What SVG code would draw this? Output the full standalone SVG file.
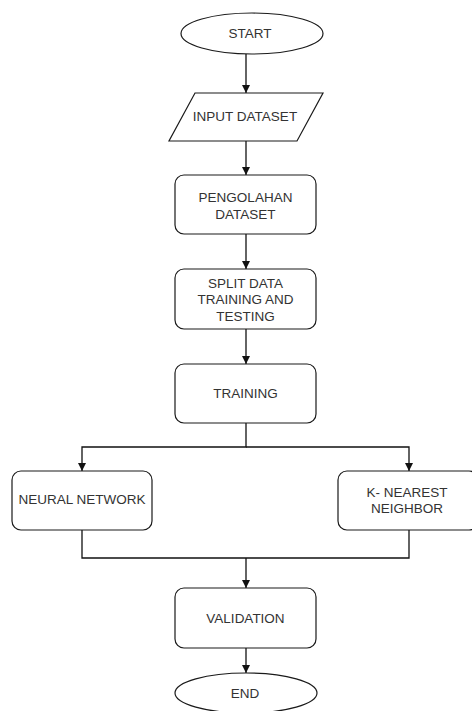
<svg xmlns="http://www.w3.org/2000/svg" width="472" height="711" viewBox="0 0 472 711">
  <style>
    .shape { fill: #ffffff; stroke: #1a1a1a; stroke-width: 1.2; }
    .label { font-family: "Liberation Sans", Arial, sans-serif; font-size: 13.5px; fill: #333333; text-anchor: middle; }
    .edge { fill: none; stroke: #111111; stroke-width: 1.3; }
  </style>
  <defs>
    <marker id="arrow" viewBox="0 0 10 10" refX="10" refY="5" markerWidth="8" markerHeight="8" markerUnits="userSpaceOnUse" orient="auto">
      <path d="M0,0 L10,5 L0,10 Z" fill="#111111"/>
    </marker>
  </defs>
  <rect width="472" height="711" fill="#ffffff"/>

  <g id="connectors">
    <path class="edge" d="M246,54 V93" marker-end="url(#arrow)"/>
    <path class="edge" d="M246,141 V175" marker-end="url(#arrow)"/>
    <path class="edge" d="M246,234 V269" marker-end="url(#arrow)"/>
    <path class="edge" d="M246,329 V364" marker-end="url(#arrow)"/>
    <path class="edge" d="M246,423 V447 H82 V471" marker-end="url(#arrow)"/>
    <path class="edge" d="M246,447 H409 V471" marker-end="url(#arrow)"/>
    <path class="edge" d="M82,530 V558 H409 V530"/>
    <path class="edge" d="M246,558 V588" marker-end="url(#arrow)"/>
    <path class="edge" d="M246,648 V673" marker-end="url(#arrow)"/>
  </g>

  <g id="start">
    <ellipse class="shape" cx="252" cy="33.5" rx="71" ry="20.5"/>
    <text class="label" x="250" y="38">START</text>
  </g>

  <g id="input-dataset">
    <polygon class="shape" points="195,93 323,93 297,141 169,141"/>
    <text class="label" x="245" y="121">INPUT DATASET</text>
  </g>

  <g id="pengolahan-dataset">
    <rect class="shape" x="175" y="175" width="141" height="59" rx="9"/>
    <text class="label" x="245.5" y="201.5">PENGOLAHAN</text>
    <text class="label" x="245.5" y="219">DATASET</text>
  </g>

  <g id="split-data">
    <rect class="shape" x="175" y="269" width="141" height="60" rx="9"/>
    <text class="label" x="245.5" y="288">SPLIT DATA</text>
    <text class="label" x="245.5" y="304">TRAINING AND</text>
    <text class="label" x="245.5" y="320.5">TESTING</text>
  </g>

  <g id="training">
    <rect class="shape" x="175" y="364" width="141" height="59" rx="9"/>
    <text class="label" x="245.5" y="398">TRAINING</text>
  </g>

  <g id="neural-network">
    <rect class="shape" x="12" y="471" width="140" height="59" rx="9"/>
    <text class="label" x="82" y="504">NEURAL NETWORK</text>
  </g>

  <g id="k-nearest-neighbor">
    <rect class="shape" x="338" y="471" width="140" height="59" rx="9"/>
    <text class="label" x="407" y="496.5">K- NEAREST</text>
    <text class="label" x="407" y="513">NEIGHBOR</text>
  </g>

  <g id="validation">
    <rect class="shape" x="175" y="588" width="141" height="60" rx="9"/>
    <text class="label" x="245.5" y="623">VALIDATION</text>
  </g>

  <g id="end">
    <ellipse class="shape" cx="246" cy="693" rx="71" ry="20"/>
    <text class="label" x="245" y="698">END</text>
  </g>
</svg>
